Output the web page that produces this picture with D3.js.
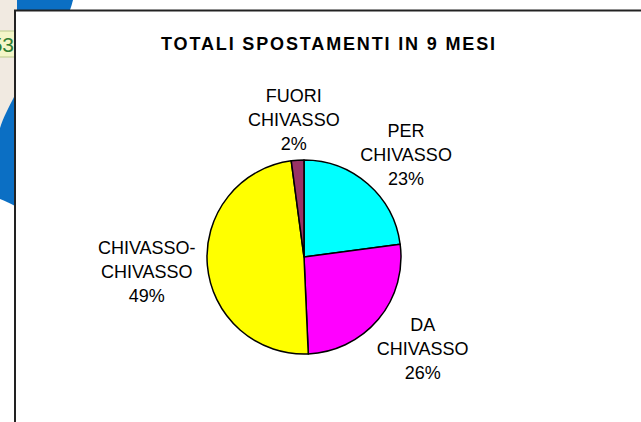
<!DOCTYPE html>
<html>
<head>
<meta charset="utf-8">
<script src="https://cdn.jsdelivr.net/npm/d3@7"></script>
<style>
  body { margin: 0; background: #fff; }
  svg { display: block; }
  text { font-family: "Liberation Sans", Arial, sans-serif; }
</style>
</head>
<body>
<svg id="chart" width="641" height="422"></svg>
<script>
// chart data
const categories = [["PER", "CHIVASSO"], ["DA", "CHIVASSO"], ["CHIVASSO-", "CHIVASSO"], ["FUORI", "CHIVASSO"]];
const trips = [229, 264, 486, 21];
const sliceColors = ["#00ffff", "#ff00ff", "#ffff00", "#993366"];
const chartTitle = "TOTALI SPOSTAMENTI IN 9 MESI";

const svg = d3.select("#chart");

// bits of the slide behind the chart (left edge)
const bg = svg.append("g");
bg.append("path")
  .attr("d", "M0,0 L17,0 L17,10 L15,10 L15,96 C9,107 3,118 0,128 Z")
  .attr("fill", "#f1eae1");
bg.append("path")
  .attr("d", "M17,0 L73,0 C72,4 71,7 70,10 L17,10 Z")
  .attr("fill", "#0b6fc4");
bg.append("path")
  .attr("d", "M15,95 C9,107 3,118 0,128 L0,199 C5,201 10,203 15,206 Z")
  .attr("fill", "#0b6fc4");
bg.append("rect")
  .attr("x", -1).attr("y", 31).attr("width", 16).attr("height", 26)
  .attr("fill", "#f3f6c8").attr("stroke", "#b9c98c").attr("stroke-width", 1);
bg.append("text")
  .attr("x", 14).attr("y", 52)
  .attr("text-anchor", "end")
  .style("font-size", "21px")
  .attr("fill", "#2e7d32")
  .text("53");

// chart frame
svg.append("rect")
  .attr("x", 15).attr("y", 10.5)
  .attr("width", 660).attr("height", 440)
  .attr("fill", "#fff")
  .attr("stroke", "#222")
  .attr("stroke-width", 2);

svg.append("text")
  .attr("x", 329).attr("y", 50)
  .attr("text-anchor", "middle")
  .style("font-size", "18px")
  .style("font-weight", "bold")
  .style("letter-spacing", "1.85px")
  .text(chartTitle);

const cx = 304, cy = 257, radius = 97;
const total = d3.sum(trips);

const pie = d3.pie().sort(null).startAngle(0).endAngle(2 * Math.PI);
const arc = d3.arc().innerRadius(0).outerRadius(radius);
const arcs = pie(trips);

const g = svg.append("g").attr("transform", `translate(${cx},${cy})`);

g.selectAll("path")
  .data(arcs)
  .join("path")
  .attr("d", arc)
  .attr("fill", (d, i) => sliceColors[i])
  .attr("stroke", "#000")
  .attr("stroke-width", 1.5)
  .attr("stroke-linejoin", "round");

// labels outside the pie
const lineH = 24, fontSize = 18;
const labels = g.selectAll("text.lbl")
  .data(arcs)
  .join("text")
  .attr("class", "lbl")
  .attr("text-anchor", "middle")
  .style("font-size", fontSize + "px")
  .attr("fill", "#000");

labels.each(function (d, i) {
  const lines = categories[i].concat([Math.round(d.data / total * 100) + "%"]);
  const t = d3.select(this);
  lines.forEach((s, k) => {
    t.append("tspan").attr("x", 0).attr("dy", k === 0 ? 0 : lineH).text(s);
  });
  const w = this.getBBox().width;
  const h = lineH * (lines.length - 1) + 13;
  const a = (d.startAngle + d.endAngle) / 2;
  const sx = Math.sin(a), sy = -Math.cos(a);
  const dist = radius + 12;
  const px = sx * dist + sx * w / 2;
  const py = sy * dist + sy * h / 2 + 2;
  t.attr("transform", `translate(${px},${py - h / 2 + 13})`);
});
</script>
</body>
</html>
